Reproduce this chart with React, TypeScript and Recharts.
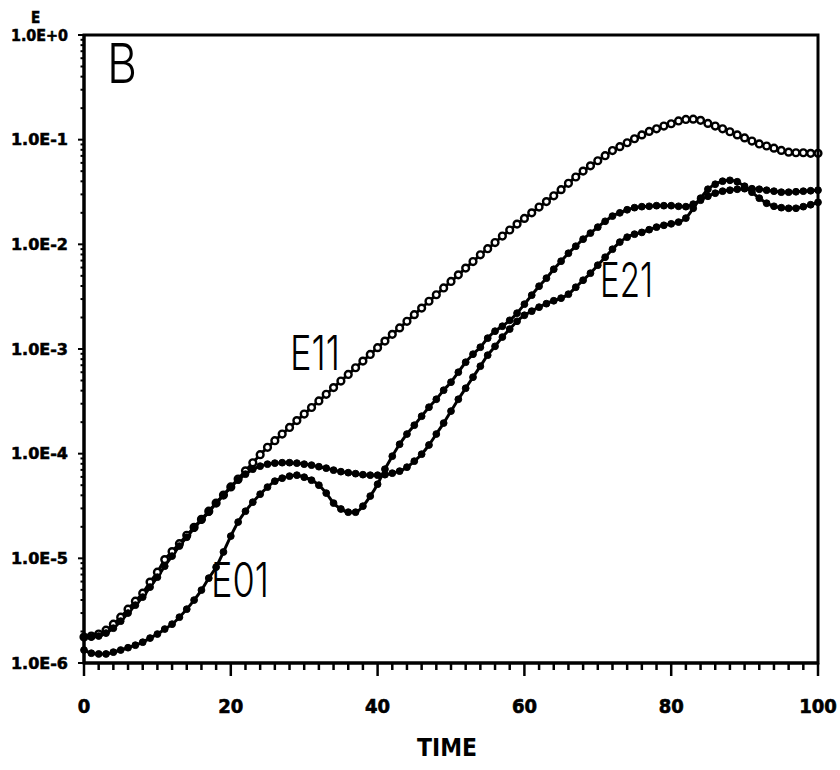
import { LineChart, Line, XAxis, YAxis } from 'recharts'

// sample times
const TIME = Array.from({ length: 101 }, (_, i) => i)

// mode energies read per unit of time
const E11 = [
  1.77e-6, 1.81e-6, 1.89e-6, 2.06e-6, 2.35e-6, 2.74e-6, 3.27e-6, 3.9e-6, 4.65e-6, 5.93e-6,
  7.38e-6, 9.72e-6, 1.16e-5, 1.38e-5, 1.66e-5, 1.98e-5, 2.36e-5, 2.82e-5, 3.37e-5, 4.02e-5,
  4.81e-5, 5.73e-5, 6.85e-5, 8.19e-5, 9.78e-5, 1.15e-4, 1.33e-4, 1.54e-4, 1.78e-4, 2.07e-4,
  2.39e-4, 2.76e-4, 3.19e-4, 3.69e-4, 4.28e-4, 4.94e-4, 5.71e-4, 6.62e-4, 7.66e-4, 8.87e-4,
  1.03e-3, 1.19e-3, 1.38e-3, 1.59e-3, 1.84e-3, 2.13e-3, 2.46e-3, 2.86e-3, 3.3e-3, 3.83e-3,
  4.42e-3, 5.11e-3, 5.93e-3, 6.85e-3, 7.94e-3, 9.08e-3, 1.04e-2, 1.2e-2, 1.37e-2, 1.56e-2,
  1.77e-2, 2.0e-2, 2.27e-2, 2.56e-2, 2.91e-2, 3.33e-2, 3.83e-2, 4.4e-2, 5.01e-2, 5.62e-2,
  6.29e-2, 7.03e-2, 7.87e-2, 8.58e-2, 9.34e-2, 0.102, 0.111, 0.12, 0.127, 0.135,
  0.142, 0.151, 0.156, 0.157, 0.153, 0.143, 0.135, 0.127, 0.119, 0.111,
  0.104, 0.097, 0.091, 0.087, 0.083, 0.079, 0.076, 0.075, 0.075, 0.074,
  0.074,
]

const E01 = [
  1.33e-6, 1.24e-6, 1.22e-6, 1.22e-6, 1.27e-6, 1.33e-6, 1.4e-6, 1.48e-6, 1.58e-6, 1.73e-6,
  1.89e-6, 2.11e-6, 2.35e-6, 2.74e-6, 3.27e-6, 3.99e-6, 4.97e-6, 6.47e-6, 8.24e-6, 1.15e-5,
  1.63e-5, 2.22e-5, 2.82e-5, 3.44e-5, 4.1e-5, 4.79e-5, 5.46e-5, 5.83e-5, 6.1e-5, 6.23e-5,
  5.96e-5, 5.58e-5, 5.0e-5, 4.2e-5, 3.37e-5, 2.96e-5, 2.76e-5, 2.76e-5, 3.15e-5, 3.93e-5,
  5.11e-5, 7.11e-5, 9.46e-5, 1.23e-4, 1.54e-4, 1.87e-4, 2.28e-4, 2.78e-4, 3.31e-4, 4.04e-4,
  4.82e-4, 6.0e-4, 7.48e-4, 8.92e-4, 1.04e-3, 1.27e-3, 1.48e-3, 1.65e-3, 1.88e-3, 2.2e-3,
  2.68e-3, 3.27e-3, 3.98e-3, 4.75e-3, 5.78e-3, 6.9e-3, 8.22e-3, 9.59e-3, 1.12e-2, 1.28e-2,
  1.46e-2, 1.66e-2, 1.86e-2, 2.0e-2, 2.14e-2, 2.24e-2, 2.29e-2, 2.31e-2, 2.34e-2, 2.34e-2,
  2.34e-2, 2.31e-2, 2.29e-2, 2.42e-2, 2.64e-2, 2.88e-2, 3.08e-2, 3.22e-2, 3.29e-2, 3.36e-2,
  3.4e-2, 3.4e-2, 3.36e-2, 3.29e-2, 3.22e-2, 3.15e-2, 3.15e-2, 3.18e-2, 3.22e-2, 3.25e-2,
  3.29e-2,
]

const E21 = [
  1.77e-6, 1.77e-6, 1.81e-6, 1.93e-6, 2.15e-6, 2.51e-6, 3.0e-6, 3.57e-6, 4.26e-6, 5.31e-6,
  6.61e-6, 8.42e-6, 1.05e-5, 1.31e-5, 1.59e-5, 1.94e-5, 2.32e-5, 2.76e-5, 3.37e-5, 4.01e-5,
  4.79e-5, 5.58e-5, 6.37e-5, 7.11e-5, 7.6e-5, 7.94e-5, 8.12e-5, 8.2e-5, 8.2e-5, 8.12e-5,
  7.94e-5, 7.77e-5, 7.51e-5, 7.27e-5, 6.96e-5, 6.73e-5, 6.58e-5, 6.44e-5, 6.3e-5, 6.23e-5,
  6.23e-5, 6.3e-5, 6.51e-5, 6.81e-5, 7.43e-5, 8.48e-5, 9.89e-5, 1.21e-4, 1.54e-4, 1.96e-4,
  2.55e-4, 3.31e-4, 4.22e-4, 5.38e-4, 6.85e-4, 8.73e-4, 1.06e-3, 1.3e-3, 1.55e-3, 1.84e-3,
  2.1e-3, 2.3e-3, 2.51e-3, 2.71e-3, 2.89e-3, 3.06e-3, 3.34e-3, 3.89e-3, 4.54e-3, 5.3e-3,
  6.32e-3, 7.53e-3, 8.98e-3, 1.05e-2, 1.17e-2, 1.25e-2, 1.3e-2, 1.38e-2, 1.46e-2, 1.52e-2,
  1.57e-2, 1.63e-2, 1.78e-2, 2.21e-2, 2.76e-2, 3.36e-2, 3.75e-2, 4.01e-2, 4.09e-2, 3.96e-2,
  3.59e-2, 3.15e-2, 2.76e-2, 2.47e-2, 2.31e-2, 2.24e-2, 2.21e-2, 2.21e-2, 2.29e-2, 2.39e-2,
  2.52e-2,
]

const X_TICKS = Array.from({ length: 51 }, (_, i) => i * 2)
const X_LABELS = [0, 20, 40, 60, 80, 100]
const Y_DECADES = [1e-6, 1e-5, 1e-4, 1e-3, 1e-2, 1e-1, 1]
const Y_LABELS = ['1.0E-6', '1.0E-5', '1.0E-4', '1.0E-3', '1.0E-2', '1.0E-1', '1.0E+0']
const Y_MINOR = [2, 3, 4, 5, 6, 7, 8, 9]
const Y_TICKS = Y_DECADES.slice(0, -1)
  .flatMap((d) => [d, ...Y_MINOR.map((m) => m * d)])
  .concat([1])

const rows = TIME.map((t, i) => ({ t, e11: E11[i], e01: E01[i], e21: E21[i] }))

// chart box; the frame and tick comb below reuse the same numbers
const W = 840
const H = 770
const MARGIN = { top: 35, right: 22, bottom: 0, left: 0 }
const Y_AXIS_W = 84
const X_AXIS_H = 107
const X_DOMAIN = [0, 100]
const Y_DOMAIN = [1e-6, 1]
const plot = {
  left: MARGIN.left + Y_AXIS_W,
  right: W - MARGIN.right,
  top: MARGIN.top,
  bottom: H - MARGIN.bottom - X_AXIS_H,
}
const xPos = (t: number) =>
  plot.left + ((t - X_DOMAIN[0]) / (X_DOMAIN[1] - X_DOMAIN[0])) * (plot.right - plot.left)
const yPos = (v: number) =>
  plot.top +
  ((Math.log10(Y_DOMAIN[1]) - Math.log10(v)) / (Math.log10(Y_DOMAIN[1]) - Math.log10(Y_DOMAIN[0]))) *
    (plot.bottom - plot.top)

const tickFont = "'DejaVu Sans Condensed', 'DejaVu Sans', sans-serif"
const thinFont = "Inter, Lato, 'DejaVu Sans', sans-serif"

function XLabel({ x, y, payload }: any) {
  return (
    <text x={x} y={y + 50} textAnchor="middle" fontFamily={tickFont} fontWeight="bold" fontSize={20}
      stroke="#000" strokeWidth={0.6} fill="#000">
      {payload.value}
    </text>
  )
}

function YLabel({ x, y, payload }: any) {
  const i = Y_DECADES.indexOf(payload.value)
  if (i < 0) return null
  return (
    <text x={x - 73} y={y + 5.5} fontFamily={tickFont} fontWeight="bold" fontSize={15} fill="#000"
      stroke="#000" strokeWidth={0.5} textLength={57} lengthAdjust="spacingAndGlyphs">
      {Y_LABELS[i]}
    </text>
  )
}

// frame, tick comb, panel letter, curve names and axis titles on top of the chart
function Overlay() {
  return (
    <svg width={W} height={H} style={{ position: 'absolute', left: 0, top: 0, pointerEvents: 'none' }}>
      <rect x={plot.left} y={plot.top} width={plot.right - plot.left} height={plot.bottom - plot.top}
        fill="none" stroke="#000" strokeWidth={3} />
      {X_TICKS.map((t) => (
        <line key={`x${t}`} x1={xPos(t)} x2={xPos(t)} y1={plot.bottom}
          y2={plot.bottom + (X_LABELS.includes(t) ? 13 : 7)} stroke="#000" strokeWidth={2.5} />
      ))}
      {Y_TICKS.map((v) => (
        <line key={`y${v}`} x1={plot.left - (Y_DECADES.includes(v) ? 6 : 3.5)} x2={plot.left}
          y1={yPos(v)} y2={yPos(v)} stroke="#000" strokeWidth={2} />
      ))}
      <g fill="#000">
        <text x={31} y={23} fontFamily={tickFont} fontWeight="bold" fontSize={15} stroke="#000" strokeWidth={0.5}>E</text>
        <text x={417} y={756} fontFamily={tickFont} fontWeight="bold" fontSize={25}
          textLength={60} lengthAdjust="spacingAndGlyphs">TIME</text>
        <text x={107} y={83} fontFamily={thinFont} fontWeight={300} fontSize={55}
          textLength={30} lengthAdjust="spacingAndGlyphs">B</text>
        <text x={290} y={370} fontFamily={thinFont} fontWeight={300} fontSize={48}
          textLength={50} lengthAdjust="spacingAndGlyphs">E11</text>
        <text x={211} y={597} fontFamily={thinFont} fontWeight={300} fontSize={48}
          textLength={58} lengthAdjust="spacingAndGlyphs">E01</text>
        <text x={600} y={297} fontFamily={thinFont} fontWeight={300} fontSize={48}
          textLength={53} lengthAdjust="spacingAndGlyphs">E21</text>
      </g>
    </svg>
  )
}

export default function App() {
  return (
    <div style={{ position: 'absolute', left: 0, top: 0, width: W, height: H, background: '#fff' }}>
      <LineChart width={W} height={H} data={rows} margin={MARGIN}>
        <XAxis dataKey="t" type="number" domain={X_DOMAIN} ticks={X_LABELS} interval={0}
          height={X_AXIS_H} tickSize={0} tickMargin={0} tickLine={false} tick={<XLabel />}
          axisLine={{ stroke: '#000', strokeWidth: 3 }} />
        <YAxis type="number" scale="log" domain={Y_DOMAIN} allowDataOverflow ticks={Y_DECADES} interval={0}
          width={Y_AXIS_W} tickSize={0} tickMargin={0} tickLine={false} tick={<YLabel />}
          axisLine={{ stroke: '#000', strokeWidth: 3 }} />
        <Line dataKey="e11" type="monotone" stroke="#000" strokeWidth={3} isAnimationActive={false}
          dot={{ r: 3.4, fill: '#fff', stroke: '#000', strokeWidth: 2.4 }} />
        <Line dataKey="e01" type="monotone" stroke="#000" strokeWidth={3} isAnimationActive={false}
          dot={{ r: 3.4, fill: '#000', stroke: '#000', strokeWidth: 1 }} />
        <Line dataKey="e21" type="monotone" stroke="#000" strokeWidth={3} isAnimationActive={false}
          dot={{ r: 3.4, fill: '#000', stroke: '#000', strokeWidth: 1 }} />
      </LineChart>
      <Overlay />
    </div>
  )
}
